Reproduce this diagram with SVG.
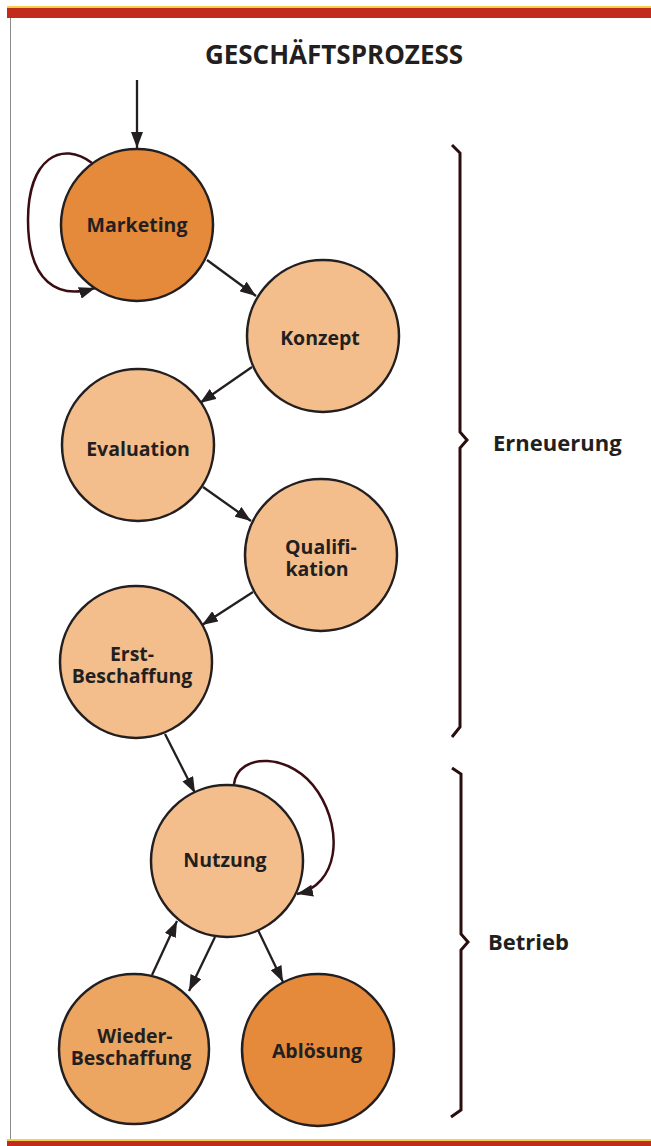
<svg xmlns="http://www.w3.org/2000/svg" width="651" height="1146" viewBox="0 0 651 1146">
<style>
.n{stroke:#231f20;stroke-width:2.5}
.lt{fill:#F3BE8C}
.dk{fill:#E5893A}
.md{fill:#EDA562}
.t{font-family:"Open Sans","Liberation Sans",sans-serif;font-weight:bold;font-size:19.5px;fill:#231f20;text-anchor:middle}
.c{stroke:#231f20;stroke-width:2.3;fill:none;marker-end:url(#ah)}
.loop{stroke:#3a0d12;stroke-width:2.5;fill:none;marker-end:url(#ah)}
.br{stroke:#2a0e0e;stroke-width:3;fill:none;stroke-linejoin:miter}
.lab{font-family:"Open Sans","Liberation Sans",sans-serif;font-weight:bold;font-size:22px;fill:#231f20}
</style>
<defs>
<marker id="ah" viewBox="0 0 16 12" refX="16" refY="6" markerWidth="16" markerHeight="12" orient="auto" markerUnits="userSpaceOnUse"><path d="M0,0 L16,6 L0,12 z" fill="#231f20"/></marker>
</defs>
<rect x="0" y="0" width="651" height="1146" fill="#ffffff"/>
<g id="frame">
<rect x="7" y="6" width="644" height="2" fill="#F2D04A"/>
<rect x="7" y="8" width="644" height="10" fill="#C22A1C"/>
<line x1="10.5" y1="18" x2="10.5" y2="1140" stroke="#8a8a8a" stroke-width="1"/>
<rect x="7" y="1139" width="644" height="2" fill="#F2D04A"/>
<rect x="7" y="1141" width="644" height="5" fill="#C22A1C"/>
</g>
<text x="334" y="64" class="t" style="font-size:26px">GESCHÄFTSPROZESS</text>
<g id="connectors">
<line x1="137" y1="80" x2="137" y2="148" class="c"/>
<path d="M92 163 C62 140 28 158 28 220 C28 282 58 300 95 288" class="loop"/>
<line x1="207" y1="260" x2="256" y2="296" class="c"/>
<line x1="252" y1="367" x2="200" y2="403" class="c"/>
<line x1="203" y1="487" x2="251" y2="521" class="c"/>
<line x1="253" y1="592" x2="202" y2="625" class="c"/>
<line x1="165" y1="734" x2="195" y2="793" class="c"/>
<path d="M234 784 C238 752 292 752 318 792 C344 832 338 885 297 894" class="loop"/>
<line x1="152" y1="975" x2="177" y2="921" class="c"/>
<line x1="215" y1="937" x2="189" y2="991" class="c"/>
<line x1="258" y1="930" x2="283" y2="982" class="c"/>
</g>
<g id="marketing"><circle cx="137" cy="225" r="76" class="n dk"/><text x="137" y="232" class="t">Marketing</text></g>
<g id="konzept"><circle cx="323" cy="336" r="76" class="n lt"/><text x="320" y="345" class="t">Konzept</text></g>
<g id="evaluation"><circle cx="138" cy="445" r="76" class="n lt"/><text x="138" y="456" class="t">Evaluation</text></g>
<g id="qualifikation"><circle cx="321" cy="555" r="76" class="n lt"/><text class="t"><tspan x="321" y="554">Qualifi-</tspan><tspan x="317" y="576">kation</tspan></text></g>
<g id="erstbeschaffung"><circle cx="136" cy="662" r="76" class="n lt"/><text class="t"><tspan x="132" y="661">Erst-</tspan><tspan x="132" y="683">Beschaffung</tspan></text></g>
<g id="nutzung"><circle cx="227" cy="861" r="76" class="n lt"/><text x="225" y="867" class="t">Nutzung</text></g>
<g id="wiederbeschaffung"><circle cx="134" cy="1049" r="75" class="n md"/><text class="t"><tspan x="135" y="1043">Wieder-</tspan><tspan x="131" y="1065">Beschaffung</tspan></text></g>
<g id="abloesung"><circle cx="318" cy="1050" r="76" class="n dk"/><text x="317" y="1058" class="t">Ablösung</text></g>
<g id="brackets">
<path d="M452 145 L460 153 L460 432 L467 440 L460 448 L460 727 L452 737" class="br"/>
<path d="M452 768 L461 774 L461 934 L468 942 L461 950 L461 1110 L451 1117" class="br"/>
</g>
<text x="493" y="451" class="lab">Erneuerung</text>
<text x="488" y="950" class="lab">Betrieb</text>
</svg>
